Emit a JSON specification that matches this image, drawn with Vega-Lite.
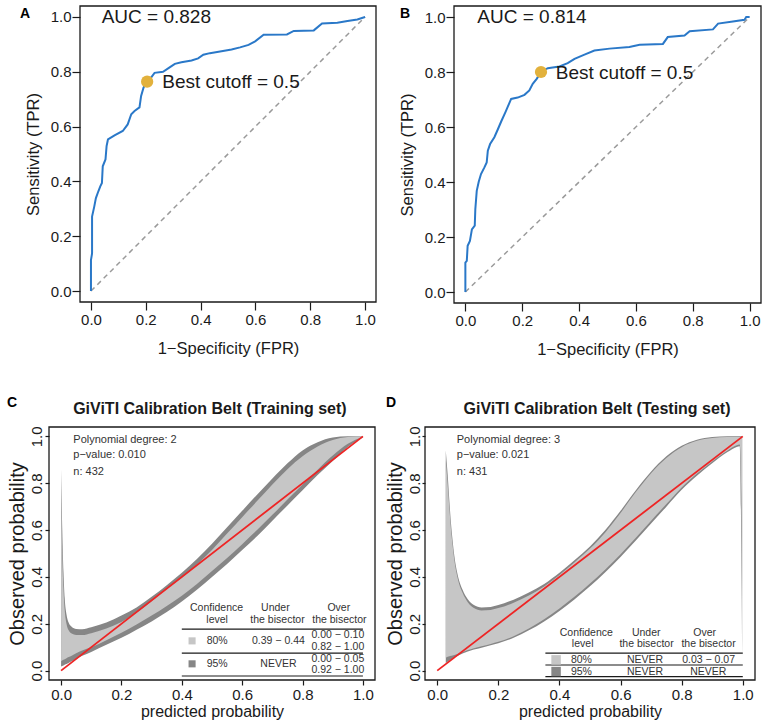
{
  "$schema": "https://vega.github.io/schema/vega-lite/v6.json",
  "padding": {"left": 7, "top": 5, "right": 5, "bottom": 5},
  "columns": 2,
  "align": "each",
  "bounds": "flush",
  "spacing": {"row": 124, "column": 49},
  "config": {
    "font": "Liberation Sans",
    "view": {"stroke": null},
    "axis": {"grid": false, "domain": false, "tickColor": "#1a1a1a", "tickWidth": 1.2, "labelColor": "#1a1a1a", "titleColor": "#1a1a1a", "titleFontWeight": "normal", "labelFont": "Liberation Sans", "titleFont": "Liberation Sans", "labelOverlap": false, "labelFlush": false}
  },
  "datasets": {
    "frame": [{"x": -0.04, "y": -0.04, "x2": 1.04, "y2": 1.04}],
    "diag": [{"x": 0, "y": 0}, {"x": 1, "y": 1}],
    "rocA": [
      {"x":0,"y":0},{"x":0,"y":0.113},{"x":0.004,"y":0.137},{"x":0.004,"y":0.272},{"x":0.012,"y":0.308},{"x":0.018,"y":0.339},{"x":0.027,"y":0.364},{"x":0.034,"y":0.382},{"x":0.04,"y":0.394},{"x":0.043,"y":0.455},{"x":0.053,"y":0.48},{"x":0.057,"y":0.529},{"x":0.062,"y":0.553},{"x":0.086,"y":0.568},{"x":0.116,"y":0.584},{"x":0.134,"y":0.608},{"x":0.147,"y":0.645},{"x":0.159,"y":0.657},{"x":0.177,"y":0.67},{"x":0.183,"y":0.712},{"x":0.192,"y":0.743},{"x":0.205,"y":0.764},{"x":0.22,"y":0.78},{"x":0.232,"y":0.796},{"x":0.263,"y":0.8},{"x":0.287,"y":0.816},{"x":0.306,"y":0.829},{"x":0.33,"y":0.835},{"x":0.367,"y":0.841},{"x":0.391,"y":0.849},{"x":0.41,"y":0.862},{"x":0.434,"y":0.868},{"x":0.471,"y":0.874},{"x":0.513,"y":0.881},{"x":0.544,"y":0.889},{"x":0.575,"y":0.898},{"x":0.599,"y":0.911},{"x":0.63,"y":0.935},{"x":0.715,"y":0.936},{"x":0.74,"y":0.949},{"x":0.813,"y":0.951},{"x":0.843,"y":0.976},{"x":0.899,"y":0.979},{"x":0.936,"y":0.985},{"x":0.972,"y":0.991},{"x":1,"y":1}
    ],
    "rocB": [
      {"x":0,"y":0},{"x":0,"y":0.107},{"x":0.005,"y":0.113},{"x":0.008,"y":0.168},{"x":0.016,"y":0.186},{"x":0.023,"y":0.228},{"x":0.033,"y":0.241},{"x":0.035,"y":0.301},{"x":0.04,"y":0.368},{"x":0.047,"y":0.401},{"x":0.055,"y":0.429},{"x":0.067,"y":0.453},{"x":0.075,"y":0.471},{"x":0.079,"y":0.514},{"x":0.087,"y":0.538},{"x":0.102,"y":0.563},{"x":0.114,"y":0.591},{"x":0.126,"y":0.62},{"x":0.141,"y":0.654},{"x":0.161,"y":0.702},{"x":0.184,"y":0.707},{"x":0.208,"y":0.717},{"x":0.225,"y":0.733},{"x":0.237,"y":0.757},{"x":0.251,"y":0.775},{"x":0.266,"y":0.8},{"x":0.29,"y":0.814},{"x":0.331,"y":0.82},{"x":0.36,"y":0.832},{"x":0.384,"y":0.848},{"x":0.419,"y":0.863},{"x":0.454,"y":0.878},{"x":0.507,"y":0.885},{"x":0.577,"y":0.891},{"x":0.613,"y":0.899},{"x":0.695,"y":0.902},{"x":0.712,"y":0.927},{"x":0.771,"y":0.933},{"x":0.789,"y":0.948},{"x":0.871,"y":0.955},{"x":0.889,"y":0.976},{"x":0.941,"y":0.984},{"x":0.982,"y":0.99},{"x":0.988,"y":1},{"x":1,"y":1}
    ],
    "cutA": [{"x": 0.205, "y": 0.764}],
    "cutB": [{"x": 0.266, "y": 0.8}],
    "annA": [{"x": 0.039, "y": 0.977, "t": "AUC = 0.828"}, {"x": 0.26, "y": 0.74, "t": "Best cutoff = 0.5"}],
    "annB": [{"x": 0.042, "y": 0.977, "t": "AUC = 0.814"}, {"x": 0.318, "y": 0.775, "t": "Best cutoff = 0.5"}],
    "tagA": [{"x": -0.259, "y": 0.996, "t": "A"}],
    "tagB": [{"x": -0.23, "y": 0.996, "t": "B"}],
    "tagC": [{"x": -0.179, "y": 1.125, "t": "C"}],
    "tagD": [{"x": -0.168, "y": 1.125, "t": "D"}],
    "headC": [{"x": 0.493, "y": 1.0955, "t": "GiViTI Calibration Belt (Training set)"}],
    "headD": [{"x": 0.523, "y": 1.0955, "t": "GiViTI Calibration Belt (Testing set)"}],
    "statC": [{"x": 0.0405, "y": 0.973, "t": "Polynomial degree: 2"}, {"x": 0.0405, "y": 0.906, "t": "p−value: 0.010"}, {"x": 0.0405, "y": 0.835, "t": "n: 432"}],
    "statD": [{"x": 0.064, "y": 0.973, "t": "Polynomial degree: 3"}, {"x": 0.064, "y": 0.906, "t": "p−value: 0.021"}, {"x": 0.064, "y": 0.835, "t": "n: 431"}],
    "tabC": [
      {"x": 0.515, "y": 0.266, "t": "Confidence"}, {"x": 0.517, "y": 0.218, "t": "level"},
      {"x": 0.71, "y": 0.266, "t": "Under"}, {"x": 0.717, "y": 0.218, "t": "the bisector"},
      {"x": 0.92, "y": 0.266, "t": "Over"}, {"x": 0.922, "y": 0.218, "t": "the bisector"},
      {"x": 0.517, "y": 0.127, "t": "80%"}, {"x": 0.72, "y": 0.127, "t": "0.39 − 0.44"},
      {"x": 0.917, "y": 0.151, "t": "0.00 − 0.10"}, {"x": 0.917, "y": 0.103, "t": "0.82 − 1.00"},
      {"x": 0.517, "y": 0.029, "t": "95%"}, {"x": 0.72, "y": 0.029, "t": "NEVER"},
      {"x": 0.917, "y": 0.051, "t": "0.00 − 0.05"}, {"x": 0.917, "y": 0.003, "t": "0.92 − 1.00"}
    ],
    "tabD": [
      {"x": 0.488, "y": 0.162, "t": "Confidence"}, {"x": 0.476, "y": 0.114, "t": "level"},
      {"x": 0.684, "y": 0.162, "t": "Under"}, {"x": 0.685, "y": 0.114, "t": "the bisector"},
      {"x": 0.875, "y": 0.162, "t": "Over"}, {"x": 0.888, "y": 0.114, "t": "the bisector"},
      {"x": 0.472, "y": 0.046, "t": "80%"}, {"x": 0.68, "y": 0.046, "t": "NEVER"}, {"x": 0.888, "y": 0.046, "t": "0.03 − 0.07"},
      {"x": 0.472, "y": -0.004, "t": "95%"}, {"x": 0.68, "y": -0.004, "t": "NEVER"}, {"x": 0.887, "y": -0.004, "t": "NEVER"}
    ],
    "ruleC": [{"x": 0.4, "x2": 1.0, "y": 0.177}, {"x": 0.4, "x2": 1.0, "y": 0.075}, {"x": 0.4, "x2": 1.0, "y": -0.023}],
    "ruleD": [{"x": 0.354, "x2": 1.0, "y": 0.075}, {"x": 0.354, "x2": 1.0, "y": 0.024}, {"x": 0.354, "x2": 1.0, "y": -0.026}],
    "keyC": [{"x": 0.434, "y": 0.127, "level": "80%"}, {"x": 0.434, "y": 0.029, "level": "95%"}],
    "keyD": [{"x": 0.389, "y": 0.046, "level": "80%"}, {"x": 0.389, "y": -0.004, "level": "95%"}],
    "b95C": [
      {"x":0,"y":0.018,"y2":0.86},{"x":0.004,"y":0.02,"y2":0.6},{"x":0.008,"y":0.022,"y2":0.42},{"x":0.012,"y":0.025,"y2":0.31},{"x":0.018,"y":0.028,"y2":0.24},{"x":0.025,"y":0.033,"y2":0.205},{"x":0.035,"y":0.04,"y2":0.187},{"x":0.05,"y":0.05,"y2":0.178},{"x":0.07,"y":0.063,"y2":0.177},{"x":0.1,"y":0.08,"y2":0.185},{"x":0.15,"y":0.11,"y2":0.205},{"x":0.2,"y":0.14,"y2":0.235},{"x":0.25,"y":0.175,"y2":0.27},{"x":0.3,"y":0.21,"y2":0.315},{"x":0.35,"y":0.25,"y2":0.365},{"x":0.4,"y":0.295,"y2":0.418},{"x":0.45,"y":0.345,"y2":0.477},{"x":0.5,"y":0.4,"y2":0.542},{"x":0.55,"y":0.455,"y2":0.612},{"x":0.6,"y":0.515,"y2":0.682},{"x":0.65,"y":0.575,"y2":0.752},{"x":0.7,"y":0.64,"y2":0.82},{"x":0.75,"y":0.705,"y2":0.885},{"x":0.8,"y":0.77,"y2":0.94},{"x":0.85,"y":0.835,"y2":0.975},{"x":0.9,"y":0.895,"y2":0.995},{"x":0.95,"y":0.955,"y2":1.0},{"x":1,"y":0.995,"y2":1.0}
    ],
    "b80C": [
      {"x":0,"y":0.04,"y2":0.78},{"x":0.004,"y":0.043,"y2":0.5},{"x":0.008,"y":0.046,"y2":0.35},{"x":0.012,"y":0.049,"y2":0.26},{"x":0.018,"y":0.053,"y2":0.2},{"x":0.025,"y":0.058,"y2":0.172},{"x":0.035,"y":0.064,"y2":0.158},{"x":0.05,"y":0.074,"y2":0.152},{"x":0.07,"y":0.086,"y2":0.152},{"x":0.1,"y":0.1,"y2":0.16},{"x":0.15,"y":0.13,"y2":0.18},{"x":0.2,"y":0.162,"y2":0.208},{"x":0.25,"y":0.197,"y2":0.247},{"x":0.3,"y":0.235,"y2":0.296},{"x":0.35,"y":0.276,"y2":0.35},{"x":0.4,"y":0.32,"y2":0.397},{"x":0.45,"y":0.37,"y2":0.452},{"x":0.5,"y":0.425,"y2":0.515},{"x":0.55,"y":0.481,"y2":0.585},{"x":0.6,"y":0.54,"y2":0.655},{"x":0.65,"y":0.601,"y2":0.725},{"x":0.7,"y":0.665,"y2":0.795},{"x":0.75,"y":0.73,"y2":0.86},{"x":0.8,"y":0.795,"y2":0.915},{"x":0.85,"y":0.858,"y2":0.957},{"x":0.9,"y":0.918,"y2":0.984},{"x":0.95,"y":0.968,"y2":0.997},{"x":1,"y":0.998,"y2":1.0}
    ],
    "b95D": [
      {"x":0.028,"y":0.032,"y2":0.94},{"x":0.031,"y":0.035,"y2":0.89},{"x":0.034,"y":0.038,"y2":0.84},{"x":0.04,"y":0.043,"y2":0.72},{"x":0.045,"y":0.048,"y2":0.63},{"x":0.05,"y":0.052,"y2":0.56},{"x":0.056,"y":0.056,"y2":0.49},{"x":0.066,"y":0.062,"y2":0.415},{"x":0.083,"y":0.073,"y2":0.345},{"x":0.1,"y":0.082,"y2":0.305},{"x":0.12,"y":0.09,"y2":0.28},{"x":0.145,"y":0.098,"y2":0.27},{"x":0.175,"y":0.108,"y2":0.272},{"x":0.2,"y":0.117,"y2":0.28},{"x":0.25,"y":0.14,"y2":0.303},{"x":0.3,"y":0.172,"y2":0.333},{"x":0.35,"y":0.21,"y2":0.37},{"x":0.4,"y":0.255,"y2":0.418},{"x":0.45,"y":0.305,"y2":0.472},{"x":0.5,"y":0.36,"y2":0.53},{"x":0.55,"y":0.42,"y2":0.6},{"x":0.6,"y":0.485,"y2":0.682},{"x":0.65,"y":0.555,"y2":0.77},{"x":0.7,"y":0.628,"y2":0.85},{"x":0.75,"y":0.7,"y2":0.915},{"x":0.8,"y":0.772,"y2":0.96},{"x":0.85,"y":0.832,"y2":0.986},{"x":0.9,"y":0.885,"y2":0.997},{"x":0.95,"y":0.933,"y2":1.0},{"x":0.98,"y":0.955,"y2":1.0},{"x":0.99,"y":0.958,"y2":1.0},{"x":0.995,"y":0.55,"y2":1.0},{"x":0.998,"y":0.06,"y2":1.0}
    ],
    "b80D": [
      {"x":0.028,"y":0.055,"y2":0.9},{"x":0.031,"y":0.057,"y2":0.85},{"x":0.034,"y":0.059,"y2":0.8},{"x":0.04,"y":0.061,"y2":0.69},{"x":0.045,"y":0.063,"y2":0.605},{"x":0.05,"y":0.065,"y2":0.54},{"x":0.056,"y":0.067,"y2":0.472},{"x":0.066,"y":0.071,"y2":0.4},{"x":0.083,"y":0.08,"y2":0.332},{"x":0.1,"y":0.088,"y2":0.292},{"x":0.12,"y":0.096,"y2":0.267},{"x":0.145,"y":0.104,"y2":0.257},{"x":0.175,"y":0.114,"y2":0.259},{"x":0.2,"y":0.123,"y2":0.267},{"x":0.25,"y":0.147,"y2":0.29},{"x":0.3,"y":0.18,"y2":0.321},{"x":0.35,"y":0.219,"y2":0.359},{"x":0.4,"y":0.265,"y2":0.408},{"x":0.45,"y":0.316,"y2":0.463},{"x":0.5,"y":0.372,"y2":0.521},{"x":0.55,"y":0.432,"y2":0.59},{"x":0.6,"y":0.497,"y2":0.673},{"x":0.65,"y":0.567,"y2":0.762},{"x":0.7,"y":0.64,"y2":0.843},{"x":0.75,"y":0.711,"y2":0.908},{"x":0.8,"y":0.782,"y2":0.954},{"x":0.85,"y":0.841,"y2":0.981},{"x":0.9,"y":0.893,"y2":0.993},{"x":0.95,"y":0.94,"y2":0.997},{"x":0.98,"y":0.962,"y2":0.997},{"x":0.99,"y":0.965,"y2":0.997},{"x":0.995,"y":0.75,"y2":0.995},{"x":0.998,"y":0.3,"y2":0.99}
    ]
  },
  "concat": [
    {
      "width": 327, "height": 296,
      "encoding": {
        "x": {"field": "x", "type": "quantitative", "scale": {"domain": [-0.04, 1.04], "nice": false, "zero": false, "rangeMin": 31},
              "axis": {"values": [0, 0.2, 0.4, 0.6, 0.8, 1], "format": ".1f", "tickSize": 8, "labelPadding": 2, "labelFontSize": 15, "title": "1−Specificity (FPR)", "titleFontSize": 16.5, "titlePadding": 13}},
        "y": {"field": "y", "type": "quantitative", "scale": {"domain": [-0.04, 1.04], "nice": false, "zero": false},
              "axis": {"values": [0, 0.2, 0.4, 0.6, 0.8, 1], "format": ".1f", "offset": -31, "tickSize": 8, "labelPadding": 1, "labelFontSize": 15, "title": "Sensitivity (TPR)", "titleFontSize": 16.5, "titlePadding": 9}}
      },
      "layer": [
        {"data": {"name": "diag"}, "mark": {"type": "line", "stroke": "#9a9a9a", "strokeWidth": 1.5, "strokeDash": [5, 4]}},
        {"data": {"name": "rocA"}, "mark": {"type": "line", "stroke": "#2A78C8", "strokeWidth": 2}, "encoding": {"order": {"value": null}}},
        {"data": {"name": "cutA"}, "mark": {"type": "circle", "fill": "#E2B13C", "opacity": 1, "size": 150}},
        {"data": {"name": "annA"}, "mark": {"type": "text", "align": "left", "baseline": "alphabetic", "fontSize": 19, "color": "#1a1a1a"}, "encoding": {"text": {"field": "t"}}},
        {"data": {"name": "tagA"}, "mark": {"type": "text", "align": "left", "baseline": "alphabetic", "fontSize": 14, "fontWeight": "bold", "color": "#000"}, "encoding": {"text": {"field": "t"}}},
        {"data": {"name": "frame"}, "mark": {"type": "rect", "fill": "transparent", "stroke": "#1a1a1a", "strokeWidth": 1.3},
         "encoding": {"x2": {"field": "x2"}, "y2": {"field": "y2"}}}
      ]
    },
    {
      "width": 336, "height": 297,
      "encoding": {
        "x": {"field": "x", "type": "quantitative", "scale": {"domain": [-0.04, 1.04], "nice": false, "zero": false, "rangeMin": 29},
              "axis": {"values": [0, 0.2, 0.4, 0.6, 0.8, 1], "format": ".1f", "tickSize": 8, "labelPadding": 2, "labelFontSize": 15, "title": "1−Specificity (FPR)", "titleFontSize": 16.5, "titlePadding": 13}},
        "y": {"field": "y", "type": "quantitative", "scale": {"domain": [-0.04, 1.04], "nice": false, "zero": false},
              "axis": {"values": [0, 0.2, 0.4, 0.6, 0.8, 1], "format": ".1f", "offset": -29, "tickSize": 8, "labelPadding": 1, "labelFontSize": 15, "title": "Sensitivity (TPR)", "titleFontSize": 16.5, "titlePadding": 9}}
      },
      "layer": [
        {"data": {"name": "diag"}, "mark": {"type": "line", "stroke": "#9a9a9a", "strokeWidth": 1.5, "strokeDash": [5, 4]}},
        {"data": {"name": "rocB"}, "mark": {"type": "line", "stroke": "#2A78C8", "strokeWidth": 2}, "encoding": {"order": {"value": null}}},
        {"data": {"name": "cutB"}, "mark": {"type": "circle", "fill": "#E2B13C", "opacity": 1, "size": 150}},
        {"data": {"name": "annB"}, "mark": {"type": "text", "align": "left", "baseline": "alphabetic", "fontSize": 19, "color": "#1a1a1a"}, "encoding": {"text": {"field": "t"}}},
        {"data": {"name": "tagB"}, "mark": {"type": "text", "align": "left", "baseline": "alphabetic", "fontSize": 14, "fontWeight": "bold", "color": "#000"}, "encoding": {"text": {"field": "t"}}},
        {"data": {"name": "frame"}, "mark": {"type": "rect", "fill": "transparent", "stroke": "#1a1a1a", "strokeWidth": 1.3},
         "encoding": {"x2": {"field": "x2"}, "y2": {"field": "y2"}}}
      ]
    },
    {
      "width": 326, "height": 253,
      "encoding": {
        "x": {"field": "x", "type": "quantitative", "scale": {"domain": [-0.04, 1.04], "nice": false, "zero": false},
              "axis": {"values": [0, 0.2, 0.4, 0.6, 0.8, 1], "format": ".1f", "tickSize": 5, "labelPadding": 2, "labelFontSize": 15, "title": "predicted probability", "titleFontSize": 16, "titlePadding": 1}},
        "y": {"field": "y", "type": "quantitative", "scale": {"domain": [-0.04, 1.04], "nice": false, "zero": false},
              "axis": {"values": [0, 0.2, 0.4, 0.6, 0.8, 1], "format": ".1f", "tickSize": 4, "labelPadding": 1, "labelFontSize": 15, "labelAngle": 270, "labelAlign": "center", "labelBaseline": "bottom", "title": "Observed probability", "titleFontSize": 20, "titlePadding": 2}}
      },
      "layer": [
        {"data": {"name": "b95C"}, "mark": {"type": "area", "fill": "#868686", "interpolate": "monotone"}, "encoding": {"y2": {"field": "y2"}}},
        {"data": {"name": "b80C"}, "mark": {"type": "area", "fill": "#C6C6C6", "interpolate": "monotone"}, "encoding": {"y2": {"field": "y2"}}},
        {"data": {"name": "diag"}, "mark": {"type": "line", "stroke": "#EE2424", "strokeWidth": 1.8}},
        {"data": {"name": "statC"}, "mark": {"type": "text", "align": "left", "baseline": "alphabetic", "fontSize": 11, "color": "#333"}, "encoding": {"text": {"field": "t"}}},
        {"data": {"name": "ruleC"}, "mark": {"type": "rule", "stroke": "#1a1a1a", "strokeWidth": 1.2}, "encoding": {"x2": {"field": "x2"}}},
        {"data": {"name": "keyC"}, "mark": {"type": "point", "shape": "square", "filled": true, "opacity": 1, "size": 50},
         "encoding": {"color": {"field": "level", "type": "nominal", "scale": {"domain": ["80%", "95%"], "range": ["#C6C6C6", "#868686"]}, "legend": null}}},
        {"data": {"name": "tabC"}, "mark": {"type": "text", "align": "center", "baseline": "middle", "fontSize": 10.5, "color": "#333"}, "encoding": {"text": {"field": "t"}}},
        {"data": {"name": "tagC"}, "mark": {"type": "text", "align": "left", "baseline": "alphabetic", "fontSize": 14, "fontWeight": "bold", "color": "#000"}, "encoding": {"text": {"field": "t"}}},
        {"data": {"name": "headC"}, "mark": {"type": "text", "align": "center", "baseline": "alphabetic", "fontSize": 16, "fontWeight": "bold", "color": "#1a1a1a"}, "encoding": {"text": {"field": "t"}}},
        {"data": {"name": "frame"}, "mark": {"type": "rect", "fill": "transparent", "stroke": "#1a1a1a", "strokeWidth": 1.3},
         "encoding": {"x2": {"field": "x2"}, "y2": {"field": "y2"}}}
      ]
    },
    {
      "width": 330, "height": 253,
      "encoding": {
        "x": {"field": "x", "type": "quantitative", "scale": {"domain": [-0.04, 1.04], "nice": false, "zero": false},
              "axis": {"values": [0, 0.2, 0.4, 0.6, 0.8, 1], "format": ".1f", "tickSize": 5, "labelPadding": 2, "labelFontSize": 15, "title": "predicted probability", "titleFontSize": 16, "titlePadding": 1}},
        "y": {"field": "y", "type": "quantitative", "scale": {"domain": [-0.04, 1.04], "nice": false, "zero": false},
              "axis": {"values": [0, 0.2, 0.4, 0.6, 0.8, 1], "format": ".1f", "tickSize": 3, "labelPadding": 0, "labelFontSize": 15, "labelAngle": 270, "labelAlign": "center", "labelBaseline": "bottom", "title": "Observed probability", "titleFontSize": 20, "titlePadding": 2}}
      },
      "layer": [
        {"data": {"name": "b95D"}, "mark": {"type": "area", "fill": "#868686", "interpolate": "monotone"}, "encoding": {"y2": {"field": "y2"}}},
        {"data": {"name": "b80D"}, "mark": {"type": "area", "fill": "#C6C6C6", "interpolate": "monotone"}, "encoding": {"y2": {"field": "y2"}}},
        {"data": {"name": "diag"}, "mark": {"type": "line", "stroke": "#EE2424", "strokeWidth": 1.8}},
        {"data": {"name": "statD"}, "mark": {"type": "text", "align": "left", "baseline": "alphabetic", "fontSize": 11, "color": "#333"}, "encoding": {"text": {"field": "t"}}},
        {"data": {"name": "ruleD"}, "mark": {"type": "rule", "stroke": "#1a1a1a", "strokeWidth": 1.2}, "encoding": {"x2": {"field": "x2"}}},
        {"data": {"name": "keyD"}, "mark": {"type": "point", "shape": "square", "filled": true, "opacity": 1, "size": 90},
         "encoding": {"color": {"field": "level", "type": "nominal", "scale": {"domain": ["80%", "95%"], "range": ["#C6C6C6", "#868686"]}, "legend": null}}},
        {"data": {"name": "tabD"}, "mark": {"type": "text", "align": "center", "baseline": "middle", "fontSize": 10.5, "color": "#333"}, "encoding": {"text": {"field": "t"}}},
        {"data": {"name": "tagD"}, "mark": {"type": "text", "align": "left", "baseline": "alphabetic", "fontSize": 14, "fontWeight": "bold", "color": "#000"}, "encoding": {"text": {"field": "t"}}},
        {"data": {"name": "headD"}, "mark": {"type": "text", "align": "center", "baseline": "alphabetic", "fontSize": 16, "fontWeight": "bold", "color": "#1a1a1a"}, "encoding": {"text": {"field": "t"}}},
        {"data": {"name": "frame"}, "mark": {"type": "rect", "fill": "transparent", "stroke": "#1a1a1a", "strokeWidth": 1.3},
         "encoding": {"x2": {"field": "x2"}, "y2": {"field": "y2"}}}
      ]
    }
  ]
}
